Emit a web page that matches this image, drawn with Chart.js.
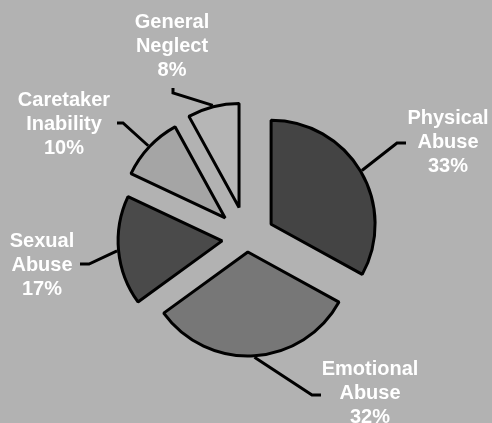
<!DOCTYPE html>
<html>
<head>
<meta charset="utf-8">
<title>Types of Abuse</title>
<script src="https://cdn.jsdelivr.net/npm/chart.js@4/dist/chart.umd.min.js"></script>
<style>
  html, body { margin: 0; padding: 0; background: #b2b2b2; overflow: hidden; }
  canvas { display: block; }
</style>
</head>
<body>
<canvas id="chart" width="492" height="423"></canvas>
<script>
// Category names (each one split over two lines) and their shares in percent
const categories = [
  ["Physical", "Abuse"],
  ["Emotional", "Abuse"],
  ["Sexual", "Abuse"],
  ["Caretaker", "Inability"],
  ["General", "Neglect"]
];
const shares = [33, 32, 17, 10, 8];
const sliceColors = ["#444444", "#777777", "#4a4a4a", "#a5a5a5", "#b6b6b6"];

// How far each slice is pulled out from the centre, in pixels
const explode = [28, 13.5, 25, 30, 32];

// Label placement: text centre x, first baseline y, leader elbow and end
const labelLayout = [
  { x: 448, y: 124, elbow: [397, 143], end: [406, 143] },
  { x: 370, y: 375, elbow: [312, 395], end: [321, 395] },
  { x: 42,  y: 247, elbow: [89, 264],  end: [80, 264] },
  { x: 64,  y: 106, elbow: [123, 123], end: [117, 123] },
  { x: 172, y: 28,  elbow: [173, 93],  end: [173, 88] }
];

const LINE_HEIGHT = 24;

// Draws each arc shifted outward along its bisector, then the callout labels
const explodedPie = {
  id: "explodedPie",
  beforeDatasetDraw(chart, args) {
    const ctx = chart.ctx;
    args.meta.data.forEach((arc, i) => {
      const mid = (arc.startAngle + arc.endAngle) / 2;
      ctx.save();
      ctx.translate(Math.cos(mid) * explode[i], Math.sin(mid) * explode[i]);
      arc.draw(ctx, chart.chartArea);
      ctx.restore();
    });
    return false;
  },
  afterDatasetsDraw(chart) {
    const ctx = chart.ctx;
    const meta = chart.getDatasetMeta(0);
    ctx.save();
    ctx.strokeStyle = "#000000";
    ctx.lineWidth = 3;
    ctx.lineJoin = "miter";
    ctx.fillStyle = "#ffffff";
    ctx.font = 'bold 20px "Liberation Sans", Arial, sans-serif';
    ctx.textAlign = "center";
    ctx.textBaseline = "alphabetic";
    meta.data.forEach((arc, i) => {
      const mid = (arc.startAngle + arc.endAngle) / 2;
      const reach = explode[i] + arc.outerRadius + arc.options.borderWidth / 2;
      const sx = arc.x + Math.cos(mid) * reach;
      const sy = arc.y + Math.sin(mid) * reach;
      const L = labelLayout[i];
      ctx.beginPath();
      ctx.moveTo(sx, sy);
      ctx.lineTo(L.elbow[0], L.elbow[1]);
      ctx.lineTo(L.end[0], L.end[1]);
      ctx.stroke();
      const lines = [...categories[i], shares[i] + "%"];
      lines.forEach((t, k) => ctx.fillText(t, L.x, L.y + k * LINE_HEIGHT));
    });
    ctx.restore();
  }
};

new Chart(document.getElementById("chart"), {
  type: "pie",
  data: {
    labels: categories.map(c => c.join(" ")),
    datasets: [{
      data: shares,
      backgroundColor: sliceColors,
      borderColor: "#000000",
      borderWidth: 3
    }]
  },
  options: {
    responsive: false,
    animation: false,
    radius: 104,
    layout: { padding: { left: 2, right: 0, top: 54, bottom: 0 } },
    plugins: {
      legend: { display: false },
      tooltip: { enabled: false }
    }
  },
  plugins: [explodedPie]
});
</script>
</body>
</html>
